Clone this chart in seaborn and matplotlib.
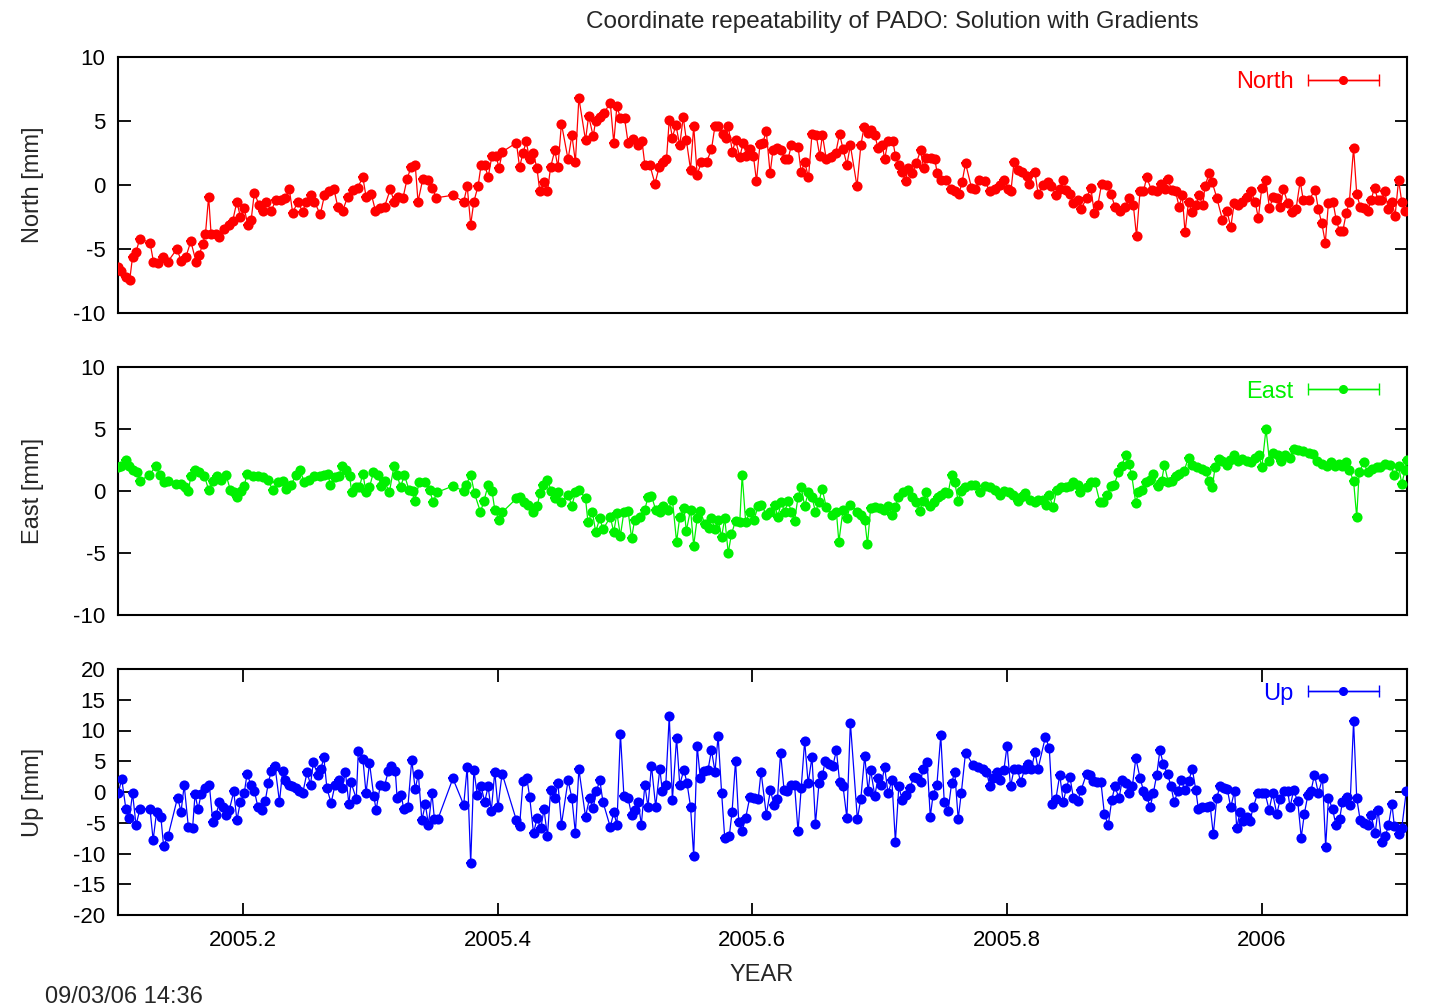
import numpy as np
import pandas as pd
import matplotlib
matplotlib.use("Agg")
import matplotlib.pyplot as plt
import seaborn as sns
from matplotlib.legend_handler import HandlerErrorbar
from matplotlib.container import ErrorbarContainer
from matplotlib.ticker import FuncFormatter

# ---------------- data (day of 2005, values in mm) ----------------
north_days = [37.1,38.1,39.5,40.6,41.4,42.4,43.5,46.4,47.4,48.6,50.0,51.5,54.1,55.3,56.7,58.1,59.6,60.5,61.5,62.3,63.2,63.9,65.3,66.3,67.7,69.1,70.1,71.3,72.3,73.4,74.4,75.4,76.3,77.7,78.7,79.7,81.1,82.5,84.0,85.2,86.3,87.3,88.7,90.2,91.1,92.4,93.5,95.2,96.4,97.8,99.1,100.2,101.6,103.1,104.5,105.9,107.4,108.3,109.8,111.0,112.2,113.6,115.3,116.3,117.4,118.9,120.1,121.2,122.4,123.2,124.6,126.0,127.3,128.4,
              133.2,136.3,137.3,138.3,139.2,140.4,141.3,142.3,143.3,144.4,145.6,146.4,147.4,151.4,152.3,153.3,154.2,155.2,156.2,157.3,158.1,159.3,160.3,161.2,162.4,163.3,164.3,166.2,167.3,168.3,169.3,171.2,172.1,173.4,174.1,175.3,176.4,178.3,179.3,180.2,181.2,182.4,183.4,184.8,186.3,187.4,188.2,189.6,191.1,192.3,193.4,194.4,195.2,196.1,197.1,198.2,199.2,200.1,201.3,202.2,203.2,204.4,205.9,207.3,208.3,209.2,210.7,211.4,212.1,213.3,214.2,215.4,216.4,217.3,218.3,219.3,220.2,221.2,
              222.0,223.0,224.1,224.9,226.1,227.3,228.3,229.2,230.2,232.1,233.0,234.0,235.1,236.1,237.3,238.3,239.1,240.2,241.6,242.9,244.0,245.0,246.1,247.1,249.0,250.1,251.0,252.2,253.1,254.1,255.0,256.3,256.9,257.9,259.3,260.0,261.0,261.9,262.9,263.6,264.9,266.0,267.2,268.1,268.9,270.3,271.3,272.0,273.2,274.6,275.9,277.0,278.2,279.1,280.1,281.8,282.9,284.0,285.6,287.1,288.5,289.9,291.1,292.3,293.1,294.0,295.2,296.4,297.6,298.3,300.0,300.9,302.4,303.6,304.7,306.0,307.1,308.1,309.0,310.0,311.0,312.2,313.2,
              314.8,316.0,317.0,318.0,319.1,320.5,321.8,322.9,324.4,325.8,327.0,328.2,329.1,330.1,331.1,332.0,333.4,334.9,336.1,337.3,338.0,339.2,340.3,341.3,342.2,343.0,344.0,345.1,346.1,347.0,348.1,348.7,349.9,350.8,352.1,353.7,355.0,356.1,357.1,358.3,359.4,360.7,361.9,363.1,364.0,365.0,366.1,367.2,368.3,369.3,370.3,371.2,372.4,373.6,374.8,376.0,376.9,378.4,380.3,381.2,382.2,383.2,384.1,385.4,386.3,387.3,388.2,389.2,390.1,391.3,392.2,393.2,394.4,395.4,396.3,397.3,398.3,399.2,400.2,401.3,402.3,403.2,404.2,405.1,406.1]
north = [-6.4,-6.7,-7.2,-7.4,-5.6,-5.2,-4.2,-4.5,-6.0,-6.1,-5.6,-6.0,-5.0,-5.9,-5.6,-4.4,-6.0,-5.5,-4.6,-3.8,-0.9,-3.8,-3.8,-4.1,-3.4,-3.1,-2.8,-1.3,-2.5,-1.8,-3.1,-2.7,-0.6,-1.6,-2.0,-1.3,-2.0,-1.2,-1.2,-1.0,-0.3,-2.2,-1.3,-2.1,-1.3,-0.8,-1.3,-2.3,-0.8,-0.5,-0.3,-1.7,-2.0,-0.9,-0.4,-0.2,0.6,-0.9,-0.7,-2.0,-1.8,-1.7,-0.3,-1.3,-0.9,-1.0,0.5,1.4,1.6,-1.3,0.5,0.4,-0.2,-1.0,
         -0.8,-1.3,-0.1,-3.1,-1.3,-0.1,1.6,1.6,0.6,2.3,2.3,1.3,2.6,3.3,1.4,2.5,3.4,2.0,2.5,1.3,-0.5,0.2,-0.5,1.4,2.7,1.4,4.8,2.0,3.9,1.8,6.8,3.5,5.4,3.8,5.0,5.3,5.6,6.4,3.3,6.2,5.2,5.2,3.3,3.6,3.1,3.4,1.6,1.6,0.1,1.4,1.8,2.0,5.1,3.7,4.7,3.1,5.3,3.5,1.2,4.6,0.8,1.8,1.8,2.8,4.6,4.6,4.0,3.7,4.6,2.6,3.5,2.2,3.3,2.3,2.8,2.3,0.3,3.2,
         3.3,4.2,0.9,2.7,2.9,2.7,2.0,2.0,3.1,3.0,1.0,1.8,0.6,4.0,3.9,2.3,3.9,2.0,2.2,2.5,4.0,2.8,1.6,3.1,-0.1,3.1,4.5,4.1,4.3,3.9,2.9,3.1,2.0,3.4,3.4,2.3,1.6,1.0,0.3,1.3,0.9,1.7,2.7,1.3,2.1,2.1,2.0,0.9,0.4,0.4,-0.3,-0.5,-0.7,0.2,1.7,-0.2,-0.3,0.4,0.3,-0.5,-0.3,0.0,0.4,-0.3,-0.5,1.8,1.2,1.0,0.7,0.1,1.0,-0.7,0.0,0.2,-0.1,-0.8,-0.3,0.4,-0.4,-0.7,-1.4,-1.2,-1.9,
         -1.0,-0.2,-2.2,-1.6,0.1,0.0,-0.7,-1.7,-2.0,-1.7,-1.0,-1.6,-4.0,-0.5,-0.5,0.6,-0.4,-0.5,0.1,-0.3,0.5,-0.4,-0.5,-1.7,-0.8,-3.7,-1.3,-2.1,-1.6,-0.8,-1.6,-0.1,0.9,0.2,-1.0,-2.7,-2.0,-3.3,-1.4,-1.6,-1.3,-0.9,-0.5,-1.3,-2.6,-0.2,0.4,-1.8,-0.9,-1.0,-1.7,-0.3,-1.4,-2.1,-1.9,0.3,-1.2,-1.2,-0.4,-1.9,-3.0,-4.5,-1.4,-1.3,-2.7,-3.6,-3.6,-2.2,-1.3,2.9,-0.7,-1.7,-1.8,-2.0,-1.2,-0.2,-1.2,-1.2,-0.5,-1.9,-1.3,-2.4,0.4,-1.3,-2.0]

east_days = [37.1,38.1,39.5,40.5,41.4,42.7,43.5,46.2,48.1,49.3,50.5,51.6,53.8,55.3,56.4,57.4,58.1,59.3,60.5,62.0,63.2,64.4,65.6,66.7,68.2,69.4,70.6,71.3,72.5,73.4,74.2,75.8,77.3,78.7,80.1,81.6,83.0,84.4,85.4,86.8,88.3,89.4,90.6,92.1,93.5,95.0,96.4,97.3,98.1,99.3,100.5,101.4,102.6,103.6,104.2,105.5,106.4,107.4,108.3,109.3,110.4,111.7,112.6,113.6,115.0,116.3,117.2,118.2,119.3,120.6,121.7,122.2,123.6,125.1,126.5,127.5,128.7,
             133.2,136.3,137.0,138.3,139.4,141.1,142.1,143.3,144.4,145.2,146.4,147.4,151.4,152.3,153.6,154.7,156.2,157.4,158.1,159.0,160.3,161.4,162.4,163.3,164.3,166.2,167.3,168.3,169.3,171.2,171.9,173.2,174.1,175.3,176.2,178.3,179.3,180.2,181.2,182.2,183.4,184.4,185.3,186.7,188.2,189.1,190.1,191.3,192.5,193.4,194.9,196.1,197.3,198.2,199.4,200.1,201.3,202.2,203.2,204.1,205.4,206.6,207.3,208.3,209.2,210.2,211.1,212.1,213.0,214.2,215.4,216.1,217.1,218.3,219.5,220.7,
             221.6,223.0,224.2,225.4,226.3,227.3,228.3,229.2,230.2,231.1,232.1,233.0,234.0,235.1,236.1,237.1,238.1,239.0,240.2,241.9,243.1,243.8,245.0,246.1,247.1,249.1,250.1,251.2,252.0,252.9,254.1,255.5,256.7,257.9,259.0,260.0,260.8,262.2,263.6,264.8,266.0,267.0,267.9,268.9,269.8,271.1,272.2,273.2,274.3,275.1,276.1,277.0,278.0,278.9,279.9,281.8,282.9,284.2,285.6,287.1,288.5,289.9,291.2,292.5,293.7,295.0,296.1,297.1,298.5,300.0,300.9,302.3,303.3,304.0,305.2,306.2,307.6,309.0,310.0,311.0,312.2,312.9,
             314.8,316.0,317.2,318.6,319.6,320.5,321.8,322.7,323.9,324.8,326.0,326.9,327.7,328.9,329.6,330.6,331.7,333.0,333.9,335.2,336.3,337.1,338.2,339.4,340.3,341.3,342.7,344.0,345.1,346.4,347.8,348.9,349.9,350.8,351.6,352.6,353.7,355.0,355.9,357.1,358.3,359.4,360.7,361.9,363.1,364.2,365.0,366.2,367.2,368.3,369.6,370.5,371.7,373.1,374.1,375.5,376.9,378.4,379.8,380.9,382.2,383.6,384.9,386.0,387.0,388.1,389.1,390.1,391.3,392.2,392.9,394.2,395.4,396.5,398.0,398.9,400.4,401.8,403.0,404.2,405.1,406.1,406.5]
east = [1.9,2.0,2.5,2.0,1.7,1.5,0.8,1.3,2.0,1.3,0.7,0.8,0.6,0.6,0.3,0.0,1.2,1.7,1.5,1.2,0.1,0.8,1.2,0.9,1.3,0.1,-0.1,-0.5,0.0,0.4,1.4,1.2,1.2,1.1,0.9,0.1,0.7,0.8,0.2,0.5,1.3,1.7,0.7,0.9,1.2,1.2,1.3,1.4,0.5,1.1,1.2,2.0,1.7,1.2,-0.1,0.3,0.3,1.4,-0.1,0.3,1.5,1.3,0.4,0.8,-0.1,2.0,1.3,0.3,1.3,0.1,0.0,-0.8,0.7,0.7,0.1,-0.9,-0.1,
        0.4,0.0,0.5,1.3,-0.2,-1.7,-0.8,0.5,0.0,-1.5,-2.3,-1.7,-0.6,-0.5,-0.9,-1.1,-1.7,-1.2,-0.2,0.5,0.9,0.0,-0.6,-0.1,-0.9,-0.3,-1.2,-0.1,0.1,-0.6,-2.5,-1.7,-3.3,-2.2,-3.1,-2.1,-3.3,-1.8,-3.6,-1.7,-1.6,-3.8,-2.3,-2.1,-1.5,-0.5,-0.4,-1.5,-1.7,-1.2,-1.5,-0.7,-4.1,-2.1,-1.4,-3.2,-1.5,-4.4,-2.2,-1.6,-2.7,-3.0,-2.2,-3.1,-2.3,-3.7,-2.2,-5.0,-3.5,-2.4,-2.5,1.3,-2.5,-1.7,-2.3,-1.2,
        -1.1,-1.9,-1.7,-1.1,-2.1,-0.9,-1.7,-0.8,-1.7,-2.4,-0.5,0.3,-1.2,-0.1,-0.5,-1.7,-0.9,0.2,-1.3,-1.9,-1.7,-4.1,-1.5,-2.2,-1.1,-1.7,-1.9,-2.3,-4.3,-1.4,-1.3,-1.4,-1.5,-1.2,-1.9,-1.3,-0.5,-0.1,0.1,-0.5,-0.9,-1.6,-0.8,-0.1,-1.2,-0.9,-0.5,-0.3,-0.1,-0.2,1.3,0.7,-0.8,0.0,0.3,0.5,0.5,-0.1,0.4,0.3,0.1,-0.3,0.0,-0.1,-0.3,-0.8,-0.5,-0.2,-0.7,-0.9,-0.7,-0.7,-1.1,-0.3,-1.3,0.1,0.3,0.3,0.4,0.7,0.5,-0.1,
        0.3,0.7,0.7,-0.9,-0.9,-0.3,0.4,0.5,1.5,2.0,2.9,2.2,1.3,-1.0,-0.1,0.1,0.7,0.9,1.4,0.4,0.8,2.1,0.7,0.8,1.2,1.4,1.6,2.7,2.1,1.9,1.8,1.6,0.8,0.3,1.9,2.6,2.4,2.1,2.5,2.9,2.4,2.6,2.4,2.3,2.7,2.9,1.9,5.0,2.4,3.1,2.9,2.4,2.9,2.7,3.4,3.3,3.2,3.1,3.0,2.4,2.2,2.0,2.3,2.0,2.2,2.0,2.3,1.7,0.8,-2.1,1.5,2.3,1.5,1.8,1.9,1.9,2.2,2.1,1.3,2.0,0.6,1.7,2.5]

up_days = [37.3,38.3,39.5,40.5,41.4,42.4,43.5,46.4,47.3,48.3,49.5,50.3,51.6,54.3,55.3,56.2,57.4,58.6,59.3,60.2,61.0,62.3,63.4,64.4,65.3,66.3,67.2,68.2,69.1,70.4,71.3,72.3,73.4,74.2,75.4,76.3,77.3,78.4,79.4,80.3,81.1,82.2,83.5,84.4,85.1,86.2,87.1,88.1,89.2,90.2,91.4,92.4,93.2,94.5,95.4,96.2,97.1,98.3,99.4,100.5,101.4,102.4,103.4,104.0,105.5,106.1,107.4,108.3,109.3,110.5,111.2,112.4,113.6,114.7,115.5,116.7,117.2,118.4,119.1,120.3,121.4,122.4,123.3,124.3,125.3,126.2,127.2,127.9,128.9,
           133.2,136.3,137.3,138.3,139.2,140.2,141.3,142.3,143.3,144.2,145.2,146.1,147.3,151.4,152.3,153.3,154.4,155.2,156.3,157.3,158.4,159.3,160.3,161.2,162.4,163.3,164.3,166.2,167.3,168.3,169.3,171.2,172.4,173.4,174.3,175.3,176.2,178.3,179.3,180.2,181.2,182.2,183.4,184.4,185.3,186.3,187.2,188.2,189.1,190.1,191.3,192.5,193.2,194.2,195.2,196.1,197.3,198.2,199.4,200.3,201.3,202.2,203.2,204.1,205.1,206.3,207.3,208.3,209.2,210.2,211.1,212.4,213.2,214.2,215.1,216.1,217.1,218.3,219.5,220.7,221.5,
           223.0,224.2,225.2,226.2,227.1,228.1,229.0,230.2,231.1,232.1,233.0,234.0,235.0,236.1,237.1,238.1,239.1,239.9,241.0,242.1,243.1,244.0,245.0,246.1,247.1,249.1,250.1,251.2,252.2,252.9,254.1,255.0,256.0,256.9,257.9,259.0,260.0,261.0,261.9,262.9,264.1,265.3,266.2,267.2,267.9,269.1,270.0,270.8,271.9,273.0,274.0,275.1,276.1,277.0,278.0,278.9,280.1,282.3,283.7,285.1,286.1,287.1,288.0,289.0,289.9,291.1,292.0,293.0,294.0,295.0,295.9,297.1,298.0,299.0,300.0,300.9,303.0,304.1,305.0,306.0,307.1,308.1,309.0,310.0,311.0,312.2,313.2,
           314.8,315.8,316.7,317.7,318.9,319.9,321.0,322.0,322.9,324.1,325.0,326.0,326.9,327.9,328.9,330.1,331.1,332.0,333.0,333.9,334.9,335.8,336.8,338.0,339.0,339.9,340.9,341.9,343.0,344.0,345.1,346.1,346.8,348.0,349.2,350.2,351.1,352.1,353.0,354.2,355.1,356.1,357.2,357.8,358.8,359.7,360.7,361.6,362.6,363.8,365.0,365.9,367.1,368.1,369.3,370.3,371.4,372.4,373.1,374.1,375.3,376.3,377.2,378.2,379.1,380.1,381.2,382.4,383.3,384.1,385.3,386.2,387.3,388.1,389.4,390.3,391.3,392.2,393.2,394.4,395.4,396.3,397.5,398.3,399.4,400.4,401.3,402.3,403.0,404.2,405.1,406.4]
up = [-0.2,2.1,-2.8,-4.2,-0.2,-5.4,-2.8,-2.8,-7.8,-3.2,-4.0,-8.8,-7.1,-0.9,-3.2,1.1,-5.7,-5.9,-0.4,-2.8,-0.4,0.7,1.2,-4.9,-3.8,-1.6,-2.4,-3.8,-3.0,0.1,-4.6,-1.6,-0.2,2.9,1.1,0.2,-2.4,-3.0,-1.5,1.4,3.4,4.3,-1.6,3.4,1.9,1.2,1.0,0.7,0.1,-0.1,3.2,1.2,4.8,2.8,3.7,5.7,0.6,-1.8,1.1,1.9,0.6,3.2,-2.0,1.6,-1.1,6.6,5.4,-0.2,4.7,-0.6,-2.9,1.1,1.0,3.4,4.3,3.4,-0.9,-0.5,-2.8,-2.4,5.2,0.5,2.9,-4.6,-2.0,-5.3,-0.2,-4.4,-4.4,
      2.2,-2.1,4.1,-11.6,3.6,-0.5,0.9,-1.6,0.9,-3.1,3.3,-2.5,3.0,-4.6,-5.6,1.8,2.2,-0.8,-6.7,-4.3,-5.9,-2.8,-7.2,0.3,-1.0,1.4,-5.3,1.9,-1.0,-6.7,3.7,-4.0,-0.9,-2.6,0.1,1.9,-1.6,-5.7,-3.3,-5.3,9.5,-0.6,-1.0,-3.7,-2.9,-1.7,-5.3,1.1,-2.4,4.3,-2.4,3.8,0.2,1.1,12.4,-1.3,8.8,1.2,3.6,1.4,-2.4,-10.4,7.5,2.2,3.4,3.6,6.8,3.3,9.1,-0.1,-7.5,-7.2,-3.2,5.1,-4.8,-6.3,-4.2,-0.8,-1.0,-1.1,3.3,
      -3.7,0.3,-2.1,-1.2,6.4,0.3,0.1,1.2,1.2,-6.4,0.6,8.3,1.4,5.7,-5.2,1.4,2.8,5.0,4.6,4.3,6.8,1.7,0.9,-4.2,11.3,-4.4,-1.1,5.9,0.1,3.6,-0.6,2.2,1.2,4.1,-0.2,1.9,-8.1,1.0,-1.3,-0.5,0.6,2.4,2.2,1.6,3.7,4.8,-4.0,-0.5,1.2,9.2,-1.6,-3.1,1.4,3.3,-4.4,-0.1,6.4,4.4,4.1,3.7,3.3,0.9,2.2,3.2,1.9,3.6,7.5,0.9,3.7,3.7,1.6,3.8,4.6,3.8,6.5,3.8,9.0,7.1,-2.0,-1.1,2.8,-1.7,0.7,2.5,-0.9,-1.5,0.3,
      3.0,2.8,1.8,1.6,1.6,-3.6,-5.4,-1.3,0.9,-1.0,1.9,1.4,-0.2,0.9,5.5,2.3,0.2,-0.6,-2.5,-0.2,2.8,6.8,4.5,2.9,0.9,-1.7,0.1,1.9,0.3,1.8,3.7,0.3,-2.7,-2.5,-2.5,-2.2,-6.9,-1.0,1.0,0.7,0.5,-2.5,0.2,-5.8,-3.2,-4.7,-4.0,-4.7,-2.4,-0.2,-0.2,-0.1,-2.9,-0.2,-3.6,-1.1,0.1,0.2,-2.5,0.3,-1.5,-7.4,-3.5,-0.5,0.2,2.8,-0.2,2.2,-8.9,-1.0,-2.8,-5.3,-4.4,-1.6,-0.8,-2.1,11.5,-1.0,-4.6,-5.1,-5.4,-3.7,-6.7,-2.9,-8.2,-7.2,-5.4,-2.0,-5.6,-6.9,-5.9,0.1]

labels = ["North", "East", "Up"]
ylabels = ["North [mm]", "East [mm]", "Up [mm]"]
colors = ["#ff0000", "#00f000", "#0000ff"]
yticks_small = [-10, -5, 0, 5, 10]
yticks_up = [-20, -15, -10, -5, 0, 5, 10, 15, 20]
xticks = [2005.2, 2005.4, 2005.6, 2005.8, 2006.0]
YEAR0 = 2005.0
DAYS_PER_YEAR = 365.0
XERR_DAYS = 1.3

# ---------------- style ----------------
sns.set_theme(style="ticks")
plt.rcParams['font.family'] = ['Liberation Sans', 'DejaVu Sans']
plt.rcParams['axes.unicode_minus'] = False

fig = plt.figure(figsize=(14.37, 10.08), dpi=100)
fig.patch.set_facecolor("white")
FW, FH = 1437.0, 1008.0
left, width = 118 / FW, 1289 / FW
rects = [(left, 1 - 313 / FH, width, 256 / FH),
         (left, 1 - 615 / FH, width, 248 / FH),
         (left, 1 - 915 / FH, width, 246 / FH)]
ylims = [(-10, 10), (-10, 10), (-20, 20)]
yticks_all = [yticks_small, yticks_small, yticks_up]
series = [(north_days, north), (east_days, east), (up_days, up)]
fmt = FuncFormatter(lambda v, p: "%g" % v)

for i, (rect, (days, vals), col, lab) in enumerate(zip(rects, series, colors, labels)):
    ax = fig.add_axes(rect)
    ax.set_facecolor("white")
    x = YEAR0 + np.asarray(days) / DAYS_PER_YEAR
    df = pd.DataFrame({"year": x, "val": vals})
    ax.errorbar(df["year"], df["val"], xerr=XERR_DAYS / DAYS_PER_YEAR, fmt="none",
                ecolor=col, elinewidth=1.5, zorder=2)
    sns.lineplot(data=df, x="year", y="val", ax=ax, color=col, lw=0.9,
                 marker="o", markersize=7.3, markeredgewidth=0,
                 estimator=None, sort=False, legend=False, zorder=3)
    proxy = ax.errorbar(np.array([np.nan]), np.array([np.nan]), xerr=np.array([1.0]),
                        fmt="-o", color=col, ms=5.5, lw=1, elinewidth=1, capsize=4, capthick=1)
    ax.legend([proxy], [lab], loc="upper right", bbox_to_anchor=(0.978, 0.945),
              frameon=False, markerfirst=False, numpoints=1, handlelength=3.0,
              handletextpad=0.6, fontsize=17, labelcolor=col, borderaxespad=0,
              borderpad=0, handler_map={ErrorbarContainer: HandlerErrorbar(xerr_size=1.5)})

    ax.set_xlim(2005.102, 2006.114)
    ax.set_ylim(*ylims[i])
    ax.set_yticks(yticks_all[i])
    ax.yaxis.set_major_formatter(fmt)
    ax.set_xlabel("")
    ax.set_ylabel("")
    for sp in ax.spines.values():
        sp.set_visible(True)
        sp.set_color("black")
        sp.set_linewidth(1.5)
    ax.tick_params(axis="y", which="both", direction="in", left=True, right=True,
                   length=9, width=1.3, labelsize=16, pad=9, colors="black")
    if i < 2:
        ax.tick_params(axis="x", bottom=False, top=False, labelbottom=False)
    else:
        ax.set_xticks(xticks)
        ax.xaxis.set_major_formatter(fmt)
        ax.tick_params(axis="x", direction="in", bottom=True, top=True, length=9,
                       width=1.3, labelsize=16, pad=11, colors="black")
    ax.grid(False)
    cy = rect[1] + rect[3] / 2
    fig.text(33 / FW, cy, ylabels[i], rotation=90, ha="center", va="center", fontsize=17)

fig.text(942 / FW, 1 - 22 / FH, "Coordinate repeatability of PADO", ha="right", va="center", fontsize=17.5)
fig.text(942 / FW, 1 - 22 / FH, ": Solution with Gradients", ha="left", va="center", fontsize=17)
fig.text(762 / FW, 1 - 975 / FH, "YEAR", ha="center", va="center", fontsize=17)
fig.text(45 / FW, 1 - 997 / FH, "09/03/06 14:36", ha="left", va="center", fontsize=17)

fig.savefig("out.png", dpi=100, facecolor="white")
